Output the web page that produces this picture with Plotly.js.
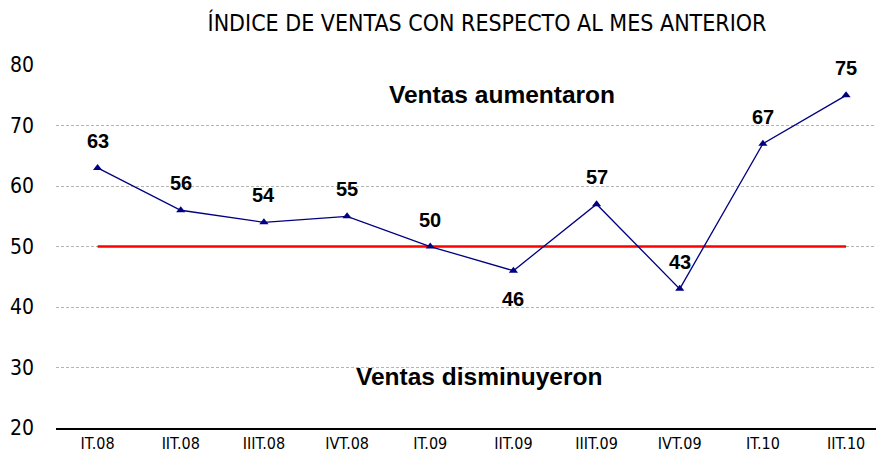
<!DOCTYPE html>
<html><head><meta charset="utf-8">
<script src="https://cdn.plot.ly/plotly-3.0.1.min.js"></script>
<style>html,body{margin:0;padding:0;background:#fff}#c{width:876px;height:464px}</style>
</head><body><div id="c"></div>
<script>
var categories = ["IT.08","IIT.08","IIIT.08","IVT.08","IT.09","IIT.09","IIIT.09","IVT.09","IT.10","IIT.10"];
var indice = [63,56,54,55,50,46,57,43,67,75];
var umbral = 50;
var labelBelow = [false,false,false,false,false,true,false,false,false,false];

var narrow = "DejaVu Sans Condensed, DejaVu Sans, sans-serif";
var bold = "Liberation Sans, Arial, sans-serif";

var traces = [
  {x: categories, y: categories.map(function(){return umbral;}), type:'scatter', mode:'lines',
   line:{color:'#ff0000', width:2.5}, hoverinfo:'skip', cliponaxis:false},
  {x: categories, y: indice, type:'scatter', mode:'lines+markers',
   line:{color:'#000080', width:1.3},
   marker:{symbol:'triangle-up', size:8, color:'#000080'}, cliponaxis:false}
];

var annotations = indice.map(function(v,i){
  return {x: categories[i], y: v, xref:'x', yref:'y', text: '<b>' + v + '</b>', showarrow:false,
    yshift: labelBelow[i] ? -28 : 27,
    font:{family:bold, size:20, color:'#000'}, xanchor:'center', yanchor:'middle'};
});
annotations.push({xref:'paper', yref:'paper', x:(502-56)/820, y:(428-95)/363, text:'<b>Ventas aumentaron</b>',
  showarrow:false, font:{family:bold, size:24.5, color:'#000'}, xanchor:'center', yanchor:'middle'});
annotations.push({xref:'paper', yref:'paper', x:(479-56)/820, y:(428-376)/363, text:'<b>Ventas disminuyeron</b>',
  showarrow:false, font:{family:bold, size:24.5, color:'#000'}, xanchor:'center', yanchor:'middle'});

var layout = {
  width:876, height:464,
  margin:{l:56, r:0, t:65, b:36},
  paper_bgcolor:'#fff', plot_bgcolor:'#fff',
  showlegend:false,
  title:{text:'ÍNDICE DE VENTAS CON RESPECTO AL MES ANTERIOR', x:487/876, xanchor:'center', y:1-23/464, yanchor:'middle',
    font:{family:narrow, size:23, color:'#000'}},
  xaxis:{type:'category', range:[-0.5, 9.36], showgrid:false, zeroline:false,
    showline:true, linecolor:'#000', linewidth:2, ticks:'', tickfont:{family:narrow, size:16, color:'#000'}, fixedrange:true},
  yaxis:{range:[19.99, 80.02], tickvals:[20,30,40,50,60,70,80], showgrid:true, gridcolor:'#b4b4b4', griddash:'3px,2px', gridwidth:1,
    zeroline:false, showline:false, ticks:'', ticklabelstandoff:21,
    tickfont:{family:narrow, size:21, color:'#000'}, fixedrange:true},
  annotations: annotations
};
Plotly.newPlot('c', traces, layout, {staticPlot:true, displayModeBar:false});
</script></body></html>
